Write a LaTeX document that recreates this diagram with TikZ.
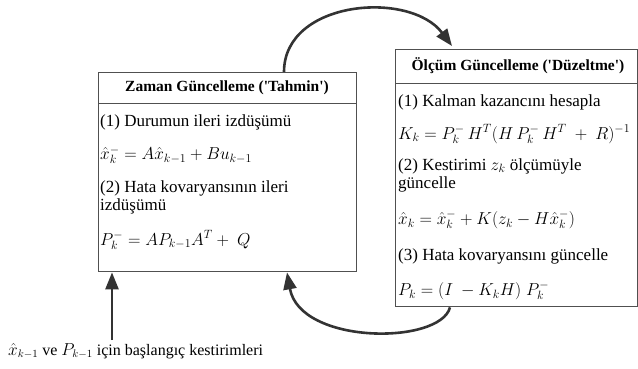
\documentclass[tikz,border=0pt]{standalone}
\usepackage{fontspec}
\setmainfont{Liberation Serif}
\usetikzlibrary{arrows.meta}
\definecolor{boxgray}{HTML}{505050}
\definecolor{arrowgray}{HTML}{333333}
\newcommand{\sq}{\textquotesingle}
\begin{document}
\begin{tikzpicture}[x=1pt,y=-1pt,
  box/.style={draw=boxgray, line width=1.4pt, fill=white, inner sep=0pt, anchor=north west},
  ttl/.style={font=\fontsize{15.5}{18}\selectfont\bfseries, inner sep=0pt},
  txt/.style={font=\fontsize{17}{20}\selectfont, anchor=west, inner sep=0pt},
  lbl/.style={font=\fontsize{16}{19}\selectfont, anchor=west, inner sep=0pt},
  sep/.style={draw=boxgray, line width=1pt},
  conn/.style={draw=arrowgray, line width=2.6pt, -{Triangle[length=17pt,width=13pt]}}]
\fill[white] (0,0) rectangle (638,369);
\useasboundingbox (0,0) rectangle (638,369);

% left box
\node[box, minimum width=258pt, minimum height=199pt] (L) at (98,72) {};
\draw[sep] (98,104) -- (356,104);
\node[ttl] (lt) at (227,88) {Zaman Güncelleme (\sq Tahmin\sq)};
\node[txt] (l1) at (100,122) {(1) Durumun ileri izdüşümü};
\node[txt] (l2) at (100,155) {${\hat{x}}{}_k^- = A{\hat{x}}{}_{k-1} + Bu_{k-1}$};
\node[txt] (l3) at (100,188) {(2) Hata kovaryansının ileri};
\node[txt] (l4) at (100,206) {izdüşümü};
\node[txt] (l5) at (100,240) {$P_k^- = AP_{k-1}A^T +\ Q$};

% right box
\node[box, minimum width=242pt, minimum height=257pt] (R) at (395,49) {};
\draw[sep] (395,84) -- (637,84);
\node[ttl] (rt) at (518,66) {Ölçüm Güncelleme (\sq Düzeltme\sq)};
\node[txt] (r1) at (398,102) {(1) Kalman kazancını hesapla};
\node[txt] (r2) at (398,134) {$K_k = P_k^-\, H^T(H\,P_k^-\,H^T \ +\ R)^{-1}$};
\node[txt] (r3) at (398,166) {(2) Kestirimi $z_k$ ölçümüyle};
\node[txt] (r4) at (398,184) {güncelle};
\node[txt] (r5) at (398,220) {${\hat{x}}{}_k = {\hat{x}}{}_k^- + K(z_k - H{\hat{x}}{}_k^-)$};
\node[txt] (r6) at (398,256) {(3) Hata kovaryansını güncelle};
\node[txt] (r7) at (398,291) {$P_k = (I\ -K_kH)\;P_k^-$};

% label
\node[lbl] (lab) at (8,351) {${\hat{x}}{}_{k-1}$ ve $P_{k-1}$ için başlangıç kestirimleri};

% connectors
\path (L.north west) ++(186,0) coordinate (ta);
\path (R.north west) ++(57,-3) coordinate (tb);
\draw[conn] (ta) .. controls (284,0) and (410,-10) .. (tb);
\path (R.south west) ++(55,0) coordinate (ba);
\path (L.south west) ++(189,0) coordinate (bb);
\draw[conn] (ba) .. controls (440,345) and (300,345) .. (bb);
\coordinate (s0) at (112,340);
\draw[conn] (s0) -- (s0 |- L.south);
\end{tikzpicture}
\end{document}
